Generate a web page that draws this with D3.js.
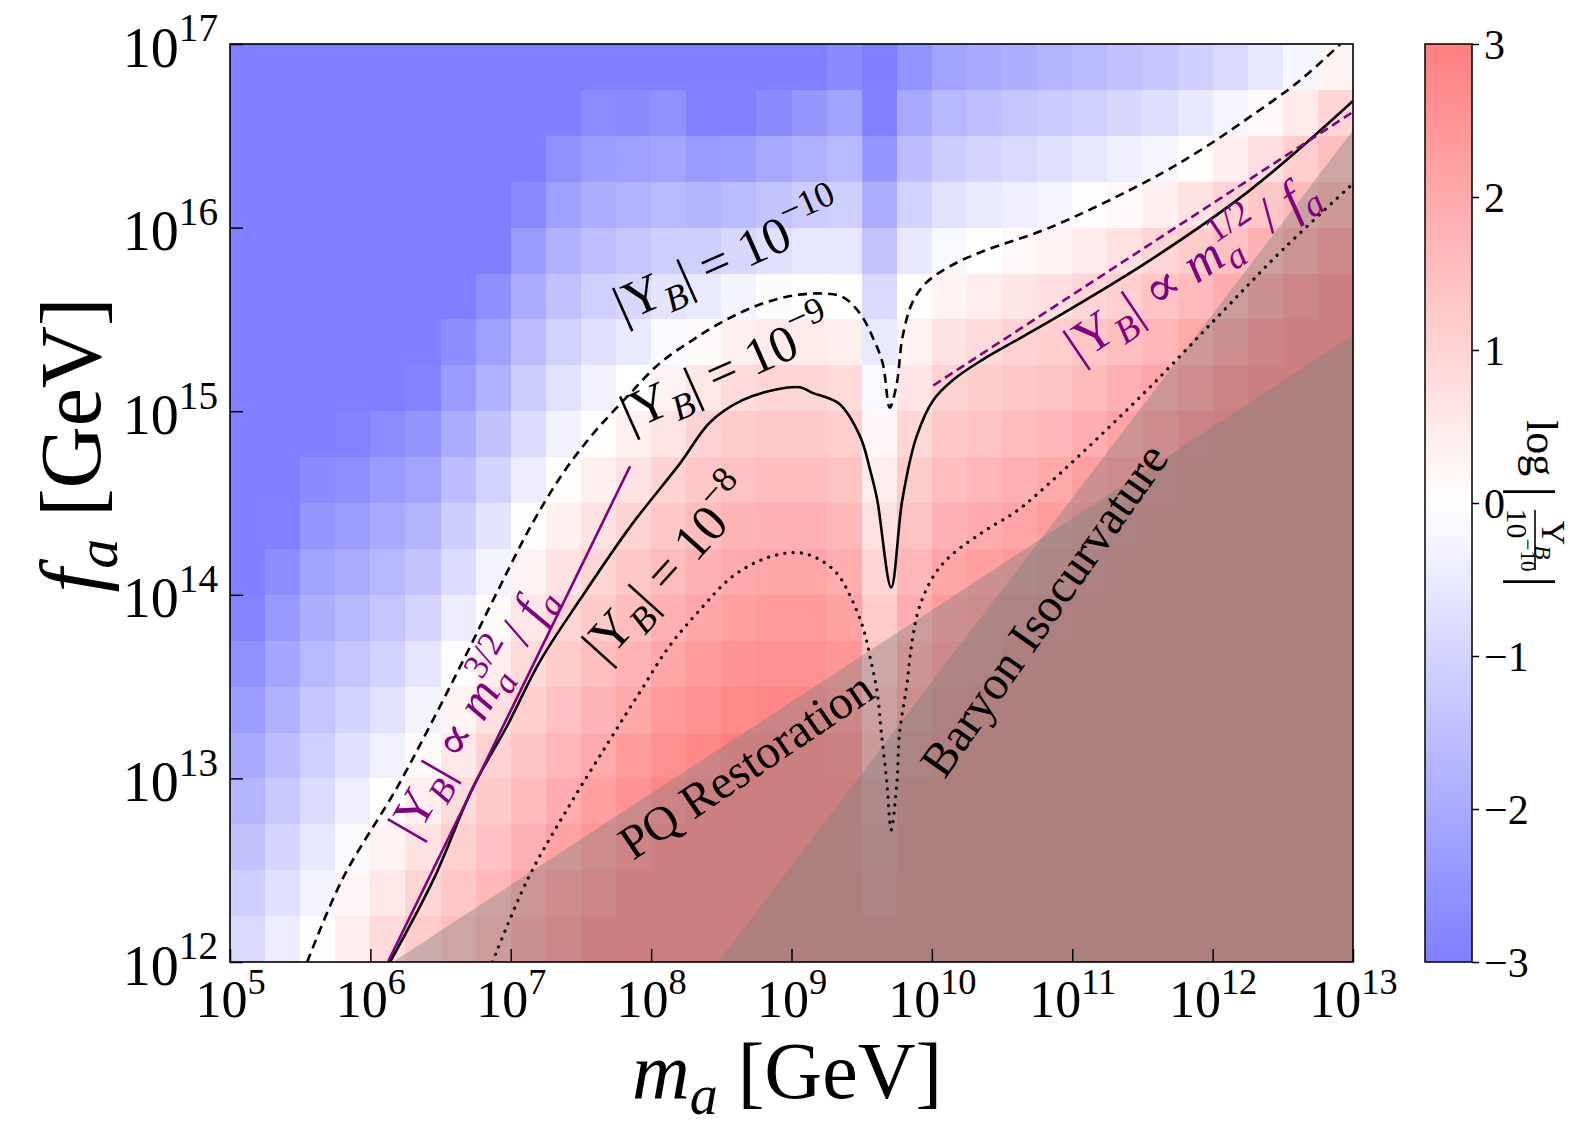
<!DOCTYPE html>
<html>
<head>
<meta charset="utf-8">
<script src="https://cdn.jsdelivr.net/npm/d3@7"></script>
<style>
  body { margin: 0; background: #fff; }
  text { font-family: "Liberation Serif", "DejaVu Serif", serif; fill: #000; }
</style>
</head>
<body>
<svg id="chart" width="1572" height="1129"></svg>
<script>
// log10(m_a / GeV) at the centre of each heat-map column
const logMa = [5.125, 5.375, 5.625, 5.875, 6.125, 6.375, 6.625, 6.875, 7.125, 7.375, 7.625, 7.875,
  8.125, 8.375, 8.625, 8.875, 9.125, 9.375, 9.625, 9.875, 10.125, 10.375, 10.625, 10.875,
  11.125, 11.375, 11.625, 11.875, 12.125, 12.375, 12.625, 12.875];
// log10(f_a / GeV) at the centre of each heat-map row, top row first
const logFa = [16.875, 16.625, 16.375, 16.125, 15.875, 15.625, 15.375, 15.125, 14.875, 14.625,
  14.375, 14.125, 13.875, 13.625, 13.375, 13.125, 12.875, 12.625, 12.375, 12.125];
// log|Y_B / 1e-10|, rows follow logFa
const yieldRows = [
  [-3,-3,-3,-3,-3,-3,-3,-3,-3,-3,-3,-3,-3,-3,-3,-3,-3,-2.72,-3,-2.53,-2.17,-1.99,-1.87,-1.73,-1.61,-1.46,-1.37,-1.16,-0.86,-0.57,-0.21,0.28],
  [-3,-3,-3,-3,-3,-3,-3,-3,-3,-2.99,-2.70,-2.72,-2.61,-2.95,-2.95,-2.72,-2.43,-2.18,-2.96,-2.03,-1.67,-1.49,-1.37,-1.23,-1.09,-0.92,-0.78,-0.55,-0.24,0.09,0.49,0.96],
  [-3,-3,-3,-3,-3,-3,-3,-3,-3,-2.59,-2.30,-2.26,-2.12,-2.34,-2.28,-2.05,-1.82,-1.64,-2.44,-1.53,-1.17,-0.99,-0.87,-0.73,-0.57,-0.38,-0.20,0.06,0.39,0.75,1.14,1.51],
  [-3,-3,-3,-3,-3,-3,-3,-3,-2.74,-2.22,-1.90,-1.81,-1.63,-1.73,-1.60,-1.39,-1.20,-1.09,-1.91,-1.03,-0.67,-0.49,-0.37,-0.23,-0.05,0.16,0.38,0.67,1.01,1.31,1.67,2.05],
  [-3,-3,-3,-3,-3,-3,-3,-3,-2.35,-1.82,-1.51,-1.35,-1.13,-1.12,-0.92,-0.73,-0.57,-0.56,-1.40,-0.53,-0.17,0.01,0.13,0.27,0.47,0.71,0.97,1.19,1.46,1.81,2.20,2.60],
  [-3,-3,-3,-3,-3,-3,-3,-2.63,-1.96,-1.46,-1.11,-0.91,-0.64,-0.49,-0.25,-0.07,0.03,-0.01,-0.87,-0.03,0.27,0.43,0.58,0.75,0.99,1.16,1.35,1.60,1.92,2.31,2.73,3],
  [-3,-3,-3,-3,-3,-3,-2.68,-2.22,-1.57,-1.05,-0.70,-0.46,-0.14,0.09,0.33,0.46,0.50,0.41,-0.50,0.30,0.65,0.86,1.03,1.14,1.31,1.50,1.72,2.01,2.37,2.81,3,3],
  [-3,-3,-3,-3,-3,-2.89,-2.31,-1.83,-1.20,-0.68,-0.30,-0.01,0.27,0.56,0.84,0.97,0.97,0.83,-0.13,0.62,1.03,1.17,1.30,1.43,1.62,1.83,2.10,2.42,2.83,3,3,3],
  [-3,-3,-3,-2.93,-2.70,-2.51,-1.94,-1.43,-0.81,-0.30,0.07,0.34,0.64,1.02,1.19,1.26,1.26,1.15,0.19,0.93,1.29,1.44,1.56,1.72,1.93,2.17,2.47,2.83,3,3,3,3],
  [-3,-3,-2.73,-2.62,-2.36,-2.13,-1.56,-1.04,-0.43,0.06,0.38,0.69,1.02,1.28,1.46,1.54,1.54,1.41,0.45,1.19,1.55,1.71,1.83,2.01,2.24,2.51,2.84,3,3,3,3,3],
  [-3,-2.95,-2.46,-2.30,-2.03,-1.76,-1.18,-0.64,-0.04,0.36,0.68,1.03,1.29,1.54,1.73,1.82,1.82,1.67,0.71,1.44,1.82,1.97,2.10,2.29,2.56,2.84,3,3,3,3,3,3],
  [-3,-2.67,-2.18,-1.98,-1.69,-1.38,-0.81,-0.25,0.27,0.65,0.99,1.28,1.56,1.81,1.99,2.09,2.09,1.93,0.96,1.68,2.08,2.24,2.37,2.58,2.87,3,3,3,3,3,3,3],
  [-2.87,-2.39,-1.91,-1.67,-1.36,-1.00,-0.43,0.12,0.57,0.95,1.24,1.53,1.82,2.07,2.25,2.34,2.34,2.19,1.21,1.93,2.34,2.50,2.64,2.86,3,3,3,3,3,3,3,3],
  [-2.58,-2.11,-1.63,-1.36,-1.02,-0.62,-0.05,0.42,0.86,1.20,1.49,1.78,2.09,2.32,2.50,2.59,2.59,2.44,1.46,2.17,2.60,2.77,2.92,3,3,3,3,3,3,3,3,3],
  [-2.30,-1.83,-1.36,-1.04,-0.68,-0.25,0.26,0.73,1.13,1.45,1.74,2.04,2.34,2.57,2.75,2.84,2.84,2.69,1.71,2.42,2.87,3,3,3,3,3,3,3,3,3,3,3],
  [-2.01,-1.55,-1.08,-0.72,-0.35,0.10,0.54,1.02,1.37,1.69,1.99,2.29,2.59,2.82,3,3,3,2.94,1.95,2.66,3,3,3,3,3,3,3,3,3,3,3,3],
  [-1.73,-1.27,-0.81,-0.41,-0.01,0.39,0.83,1.24,1.60,1.93,2.24,2.54,2.84,3,3,3,3,3,2.20,2.91,3,3,3,3,3,3,3,3,3,3,3,3],
  [-1.44,-0.99,-0.53,-0.10,0.28,0.68,1.10,1.46,1.84,2.18,2.49,2.79,3,3,3,3,3,3,2.45,3,3,3,3,3,3,3,3,3,3,3,3,3],
  [-1.16,-0.71,-0.26,0.18,0.55,0.97,1.32,1.68,2.09,2.43,2.74,3,3,3,3,3,3,3,2.70,3,3,3,3,3,3,3,3,3,3,3,3,3],
  [-0.87,-0.43,0.02,0.45,0.84,1.21,1.55,1.90,2.34,2.68,2.99,3,3,3,3,3,3,3,2.94,3,3,3,3,3,3,3,3,3,3,3,3,3]
];

// contours [log m_a, log f_a]
const contour1e10 = [[5.55,12.0],[5.80,12.45],[6.19,12.95],[6.42,13.28],[6.66,13.64],[6.90,14.01],[7.14,14.37],
  [7.37,14.66],[7.59,14.88],[7.83,15.08],[8.06,15.26],[8.30,15.39],[8.54,15.50],[8.77,15.58],[9.01,15.63],
  [9.25,15.64],[9.37,15.62],[9.49,15.53],[9.58,15.40],[9.65,15.26],[9.70,15.02],[9.75,15.15],[9.79,15.40],
  [9.86,15.59],[9.96,15.70],[10.13,15.79],[10.36,15.87],[10.84,16.00],[11.55,16.26],[11.91,16.42],
  [12.26,16.60],[12.62,16.80],[12.91,17.0]];
const contour1e9 = [[6.14,12.0],[6.45,12.45],[6.73,12.95],[6.97,13.28],[7.21,13.64],[7.49,13.97],[7.85,14.37],
  [8.21,14.72],[8.42,14.94],[8.65,15.06],[8.90,15.12],[9.06,15.13],[9.15,15.10],[9.34,15.04],[9.49,14.86],
  [9.56,14.68],[9.61,14.52],[9.71,14.04],[9.79,14.52],[9.89,14.86],[10.01,15.06],[10.15,15.17],[10.36,15.28],
  [10.61,15.39],[10.84,15.49],[11.55,15.82],[12.26,16.20],[13.0,16.69]];
const contour1e8 = [[6.87,12.0],[7.12,12.45],[7.40,12.83],[7.69,13.19],[7.92,13.47],[8.13,13.72],[8.35,13.92],
  [8.58,14.10],[8.82,14.20],[9.04,14.23],[9.18,14.20],[9.32,14.12],[9.42,13.99],[9.51,13.82],[9.56,13.66],
  [9.61,13.47],[9.64,13.25],[9.68,12.97],[9.71,12.72],[9.75,12.97],[9.77,13.25],[9.82,13.50],[9.86,13.75],
  [9.91,13.93],[10.01,14.10],[10.13,14.21],[10.36,14.34],[10.61,14.46],[10.84,14.61],[11.50,15.09],
  [12.03,15.51],[12.50,15.88],[13.0,16.24]];
const scaling32 = [[6.125,12.0],[7.85,14.70]];
const scaling12 = [[10.01,15.14],[13.0,16.63]];
const pqRegion = [[6.16,12.0],[13.0,15.415],[13.0,12.0]];
const isoRegion = [[8.476,12.0],[13.0,16.53],[13.0,12.0]];

const xTickExp = [5, 6, 7, 8, 9, 10, 11, 12, 13];
const yTickExp = [12, 13, 14, 15, 16, 17];
const cbTicks = [-3, -2, -1, 0, 1, 2, 3];

const svg = d3.select('#chart');
const box = { left: 230, right: 1353, top: 44, bottom: 962 };
const x = d3.scaleLog().domain([1e5, 1e13]).range([box.left, box.right]);
const y = d3.scaleLog().domain([1e12, 1e17]).range([box.bottom, box.top]);
const px = lm => x(Math.pow(10, lm));
const py = lf => y(Math.pow(10, lf));
const color = d3.scaleLinear().domain([-3, 0, 3]).range(['#7f7fff', '#ffffff', '#ff7f7f']).clamp(true);

svg.append('defs').append('clipPath').attr('id', 'plotclip')
  .append('rect').attr('x', box.left).attr('y', box.top)
  .attr('width', box.right - box.left).attr('height', box.bottom - box.top);

const plot = svg.append('g').attr('clip-path', 'url(#plotclip)');

// heat map
const half = 0.125;
const cells = [];
logFa.forEach((f, j) => logMa.forEach((m, i) => cells.push({ m: m, f: f, v: yieldRows[j][i] })));
plot.selectAll('rect.cell').data(cells).join('rect')
  .attr('class', 'cell')
  .attr('x', d => px(d.m - half))
  .attr('y', d => py(d.f + half))
  .attr('width', d => px(d.m + half) - px(d.m - half) + 0.6)
  .attr('height', d => py(d.f - half) - py(d.f + half) + 0.6)
  .attr('fill', d => color(d.v))
  .attr('shape-rendering', 'crispEdges');

// excluded regions
const poly = d3.line().x(d => px(d[0])).y(d => py(d[1]));
[pqRegion, isoRegion].forEach(r => {
  plot.append('path').attr('d', poly(r) + 'Z')
    .attr('fill', '#808080').attr('fill-opacity', 0.4);
});

// contours
const curve = d3.line().x(d => px(d[0])).y(d => py(d[1])).curve(d3.curveCatmullRom.alpha(0.5));
plot.append('path').attr('d', curve(contour1e10)).attr('fill', 'none')
  .attr('stroke', '#000').attr('stroke-width', 2.6).attr('stroke-dasharray', '9 6');
plot.append('path').attr('d', curve(contour1e9)).attr('fill', 'none')
  .attr('stroke', '#000').attr('stroke-width', 2.6);
plot.append('path').attr('d', curve(contour1e8)).attr('fill', 'none')
  .attr('stroke', '#000').attr('stroke-width', 3.2).attr('stroke-linecap', 'round')
  .attr('stroke-dasharray', '0.1 8.2');
plot.append('path').attr('d', poly(scaling32)).attr('fill', 'none')
  .attr('stroke', '#800080').attr('stroke-width', 2.6);
plot.append('path').attr('d', poly(scaling12)).attr('fill', 'none')
  .attr('stroke', '#800080').attr('stroke-width', 2.6).attr('stroke-dasharray', '9 5');

// rich text helper: parts with sub / sup / italic
function rich(sel, parts, size) {
  let cur = 0;
  sel.style('font-size', size + 'px');
  parts.forEach(p => {
    const lvl = p.sup ? -size * 0.45 : p.sub ? size * 0.2 : 0;
    const small = p.sup || p.sub;
    const t = sel.append('tspan').text(p.t)
      .attr('dy', (lvl - cur).toFixed(1))
      .style('font-size', (small ? size * 0.7 : size) + 'px');
    if (p.it) t.style('font-style', 'italic');
    if (p.dx) t.attr('dx', p.dx);
    cur = lvl;
  });
  return sel;
}

// annotations
const yb = [{ t: '|Y' }, { t: 'B', sub: true, it: true }, { t: '|' }];
const labels = [
  { at: [7.80, 15.48], rot: -24, size: 52, fill: '#000', parts: yb.concat([{ t: ' = 10' }, { t: '\u221210', sup: true }]) },
  { at: [7.85, 14.89], rot: -24, size: 52, fill: '#000', parts: yb.concat([{ t: ' = 10' }, { t: '\u22129', sup: true }]) },
  { at: [7.67, 13.62], rot: -48, size: 52, fill: '#000', parts: yb.concat([{ t: ' = 10' }, { t: '\u22128', sup: true }]) },
  { at: [6.32, 12.66], rot: -60, size: 50, fill: '#800080', parts: yb.concat([{ t: ' \u221d ' }, { t: 'm', it: true },
      { t: '3/2', sup: true }, { t: 'a', sub: true, it: true, dx: -44 }, { t: ' / ', dx: 20 }, { t: 'f', it: true }, { t: 'a', sub: true, it: true }]) },
  { at: [11.05, 15.26], rot: -34, size: 52, fill: '#800080', parts: yb.concat([{ t: ' \u221d ' }, { t: 'm', it: true },
      { t: '1/2', sup: true }, { t: 'a', sub: true, it: true, dx: -45 }, { t: ' / ', dx: 20 }, { t: 'f', it: true }, { t: 'a', sub: true, it: true }]) },
  { at: [7.87, 12.55], rot: -34, size: 48, fill: '#000', parts: [{ t: 'PQ Restoration' }] },
  { at: [10.09, 12.99], rot: -55, size: 48, fill: '#000', parts: [{ t: 'Baryon Isocurvature' }] }
];
labels.forEach(l => {
  const t = svg.append('text')
    .attr('transform', `translate(${px(l.at[0])},${py(l.at[1])}) rotate(${l.rot})`)
    .style('fill', l.fill);
  rich(t, l.parts, l.size);
  t.selectAll('tspan').style('fill', l.fill);
});

// frame
svg.append('rect').attr('x', box.left).attr('y', box.top)
  .attr('width', box.right - box.left).attr('height', box.bottom - box.top)
  .attr('fill', 'none').attr('stroke', '#000').attr('stroke-width', 1.6);

// axes
const xAxis = svg.append('g').attr('transform', `translate(0,${box.bottom})`)
  .call(d3.axisBottom(x).tickValues(xTickExp.map(e => Math.pow(10, e))).tickSize(-13).tickSizeOuter(0).tickFormat(''));
xAxis.select('.domain').remove();
xAxis.selectAll('.tick line').attr('stroke-width', 1.5);
xAxis.selectAll('.tick').each(function (d, i) {
  const t = d3.select(this).append('text').attr('y', 55).attr('text-anchor', 'middle');
  rich(t, [{ t: '10' }, { t: String(xTickExp[i]), sup: true }], 52);
});

const yAxis = svg.append('g').attr('transform', `translate(${box.left},0)`)
  .call(d3.axisLeft(y).tickValues(yTickExp.map(e => Math.pow(10, e))).tickSize(-13).tickSizeOuter(0).tickFormat(''));
yAxis.select('.domain').remove();
yAxis.selectAll('.tick line').attr('stroke-width', 1.5);
yAxis.selectAll('.tick').each(function (d, i) {
  const t = d3.select(this).append('text').attr('x', -12).attr('y', 22).attr('text-anchor', 'end');
  rich(t, [{ t: '10' }, { t: String(yTickExp[i]), sup: true }], 56);
});

// axis titles
rich(svg.append('text').attr('x', 787).attr('y', 1098).attr('text-anchor', 'middle'),
  [{ t: 'm', it: true }, { t: 'a', sub: true, it: true }, { t: ' [GeV]' }], 80);
rich(svg.append('text').attr('transform', 'translate(100,445) rotate(-90)').attr('text-anchor', 'middle'),
  [{ t: 'f', it: true }, { t: 'a', sub: true, it: true }, { t: ' [GeV]' }], 86);

// colour bar
const cb = { left: 1425, right: 1472 };
const cbY = d3.scaleLinear().domain([-3, 3]).range([box.bottom, box.top]);
const grad = svg.select('defs').append('linearGradient').attr('id', 'cbgrad')
  .attr('x1', 0).attr('y1', 1).attr('x2', 0).attr('y2', 0);
d3.range(-3, 3.01, 0.5).forEach(v => {
  grad.append('stop').attr('offset', ((v + 3) / 6 * 100) + '%').attr('stop-color', color(v));
});
svg.append('rect').attr('x', cb.left).attr('y', box.top)
  .attr('width', cb.right - cb.left).attr('height', box.bottom - box.top)
  .attr('fill', 'url(#cbgrad)').attr('stroke', '#000').attr('stroke-width', 1.5);
const cbAxis = svg.append('g').attr('transform', `translate(${cb.right},0)`)
  .call(d3.axisRight(cbY).tickValues(cbTicks).tickSize(7).tickSizeOuter(0).tickFormat(''));
cbAxis.select('.domain').remove();
cbAxis.selectAll('.tick line').attr('stroke-width', 1.5);
cbAxis.selectAll('.tick').append('text')
  .attr('x', 12).attr('y', 14).style('font-size', '42px')
  .text(d => d < 0 ? '\u2212' + Math.abs(d) : String(d));

// colour bar title, written top to bottom
const cbl = svg.append('g').attr('transform', 'translate(1527,420) rotate(90)');
cbl.append('text').attr('x', 0).attr('y', 0).style('font-size', '44px').text('log');
cbl.append('text').attr('x', 66).attr('y', 12).style('font-size', '56px').text('|');
rich(cbl.append('text').attr('x', 120).attr('y', -15).attr('text-anchor', 'middle'),
  [{ t: 'Y' }, { t: 'B', sub: true, it: true }], 34);
cbl.append('line').attr('x1', 90).attr('x2', 150).attr('y1', -8).attr('y2', -8)
  .attr('stroke', '#000').attr('stroke-width', 1.6);
rich(cbl.append('text').attr('x', 120).attr('y', 20).attr('text-anchor', 'middle'),
  [{ t: '10' }, { t: '\u221210', sup: true }], 30);
cbl.append('text').attr('x', 156).attr('y', 12).style('font-size', '56px').text('|');
</script>
</body>
</html>
